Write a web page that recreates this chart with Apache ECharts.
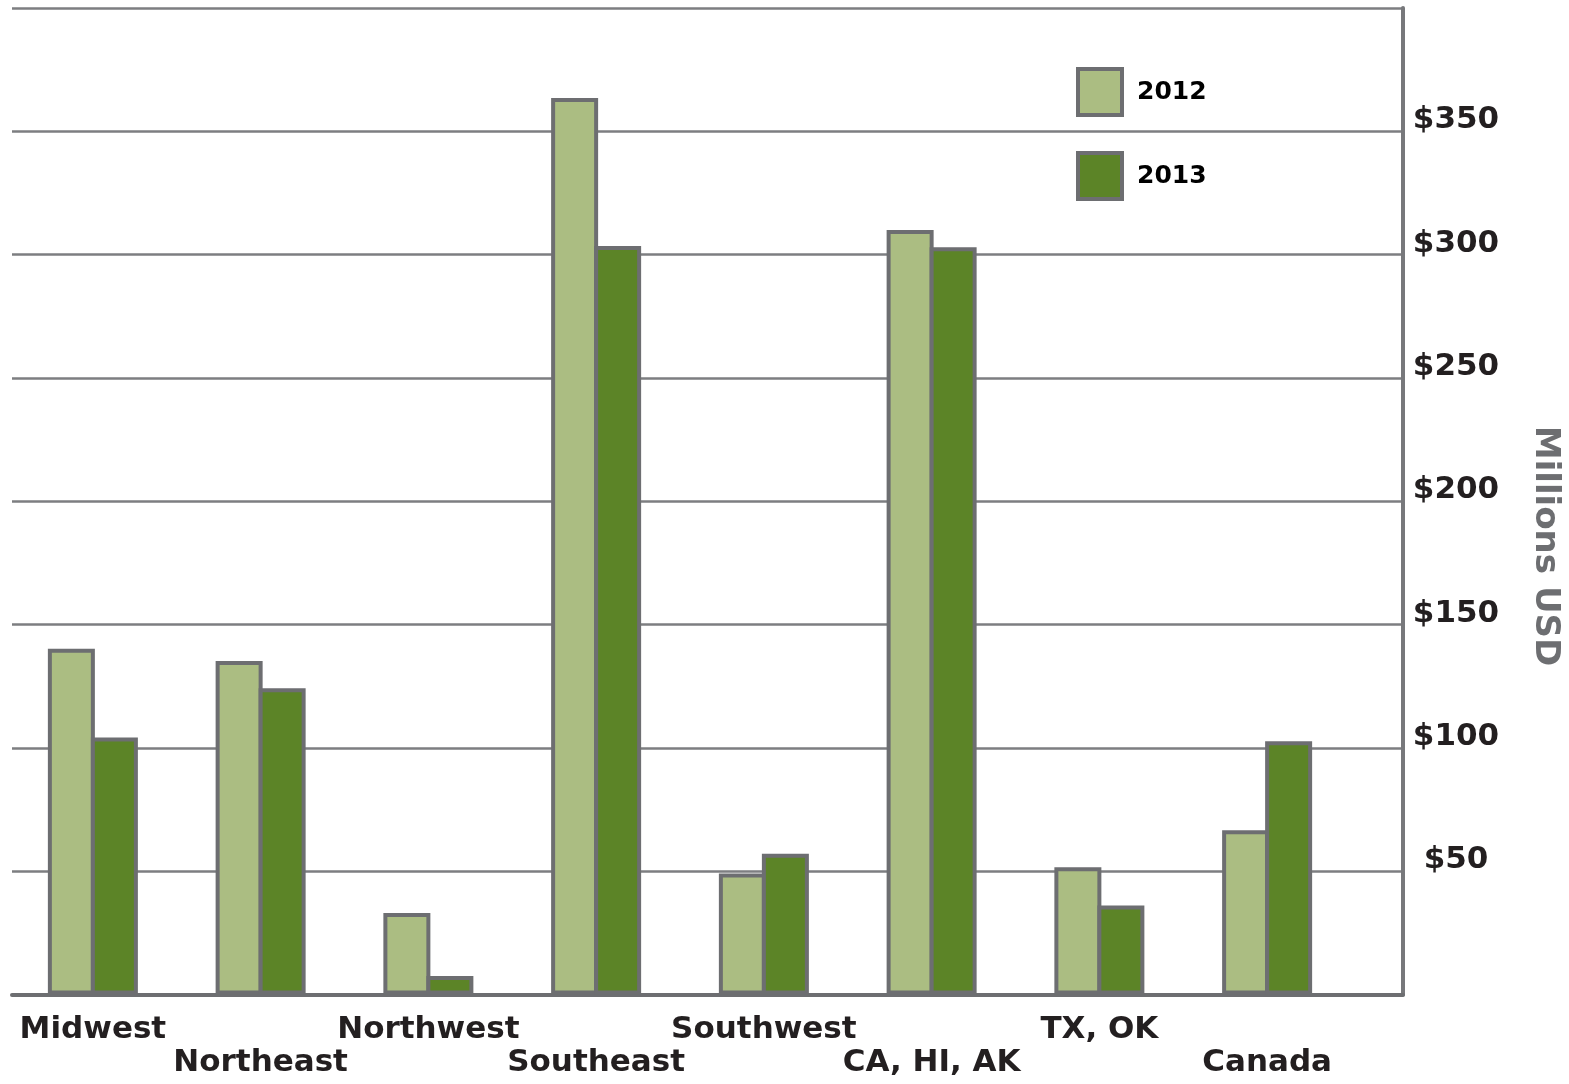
<!DOCTYPE html>
<html>
<head>
<meta charset="utf-8">
<script src="https://cdn.jsdelivr.net/npm/echarts@6/dist/echarts.min.js"></script>
<style>
html,body{margin:0;padding:0;background:#fff;}
#chart{width:1569px;height:1084px;}
</style>
</head>
<body>
<div id="chart"></div>
<script>
const categories = ['Midwest', 'Northeast', 'Northwest', 'Southeast', 'Southwest', 'CA, HI, AK', 'TX, OK', 'Canada'];
const values2012 = [140, 135, 33, 363, 49, 309.5, 51.5, 66.5];
const values2013 = [104, 124, 7.5, 303, 57, 302.5, 36, 102.5];
const seriesNames = ['2012', '2013'];
const yMin = 0, yMax = 400, yStep = 50;
const axisTitle = 'Millions USD';

const FONT = 'DejaVu Sans';
const GRAY = '#6d6e71';
const chart = echarts.init(document.getElementById('chart'));

const option = {
  animation: false,
  backgroundColor: '#ffffff',
  grid: [
    { left: 9, right: 218, top: 6.5, bottom: 89.5 },
    { left: 12, right: 166, top: 8, bottom: 89.5 }
  ],
  xAxis: [
    {
      type: 'category', gridIndex: 0, data: categories,
      axisLine: { show: false }, axisTick: { show: false },
      axisLabel: {
        interval: 0, margin: 19,
        fontFamily: FONT, fontWeight: 'bold', fontSize: 31, color: '#231f20',
        lineHeight: 33,
        formatter: function (v, i) { return i % 2 === 1 ? '\n' + v : v; }
      },
      splitLine: { show: false }
    },
    {
      type: 'category', gridIndex: 1, data: [''],
      axisLine: { show: true, lineStyle: { color: GRAY, width: 4 } },
      axisTick: { show: false }, axisLabel: { show: false }, splitLine: { show: false }
    }
  ],
  yAxis: [
    { type: 'value', gridIndex: 0, min: yMin, max: yMax, interval: yStep, show: false },
    {
      type: 'value', gridIndex: 1, position: 'right', min: yMin, max: yMax, interval: yStep,
      axisLine: { show: true, lineStyle: { color: '#77787b', width: 4 } },
      axisTick: { show: false },
      splitLine: { show: true, lineStyle: { color: '#7d7e81', width: 2.5 } },
      axisLabel: {
        margin: 53, align: 'center', verticalAlign: 'middle', lineHeight: 22,
        fontFamily: FONT, fontWeight: 'bold', fontSize: 31, color: '#231f20',
        showMinLabel: false, showMaxLabel: false,
        formatter: function (v) { return (v === yMin || v === yMax) ? '' : '$' + v + '\n '; }
      }
    }
  ],
  legend: {
    data: seriesNames, orient: 'vertical', left: 1076, top: 67, padding: 0,
    itemWidth: 44, itemHeight: 46, itemGap: 34, icon: 'rect',
    itemStyle: { borderColor: GRAY, borderWidth: 4 },
    textStyle: { fontFamily: FONT, fontWeight: 'bold', fontSize: 25, color: '#000', padding: [0, 0, 0, 10] }
  },
  graphic: [{
    type: 'text', x: 1545, y: 546, rotation: -Math.PI / 2,
    style: {
      text: axisTitle, fontFamily: FONT, fontWeight: 'bold', fontSize: 34,
      fill: GRAY, align: 'center', verticalAlign: 'middle'
    }
  }],
  series: [
    {
      name: seriesNames[0], type: 'bar', xAxisIndex: 0, yAxisIndex: 0,
      data: values2012, barWidth: 47, barGap: '-8.5%', z: 3,
      itemStyle: { color: '#abbd82', borderColor: GRAY, borderWidth: 4 }
    },
    {
      name: seriesNames[1], type: 'bar', xAxisIndex: 0, yAxisIndex: 0,
      data: values2013, barWidth: 47, barGap: '-8.5%', z: 3,
      itemStyle: { color: '#5c8427', borderColor: GRAY, borderWidth: 4 }
    }
  ]
};
chart.setOption(option);
</script>
</body>
</html>
